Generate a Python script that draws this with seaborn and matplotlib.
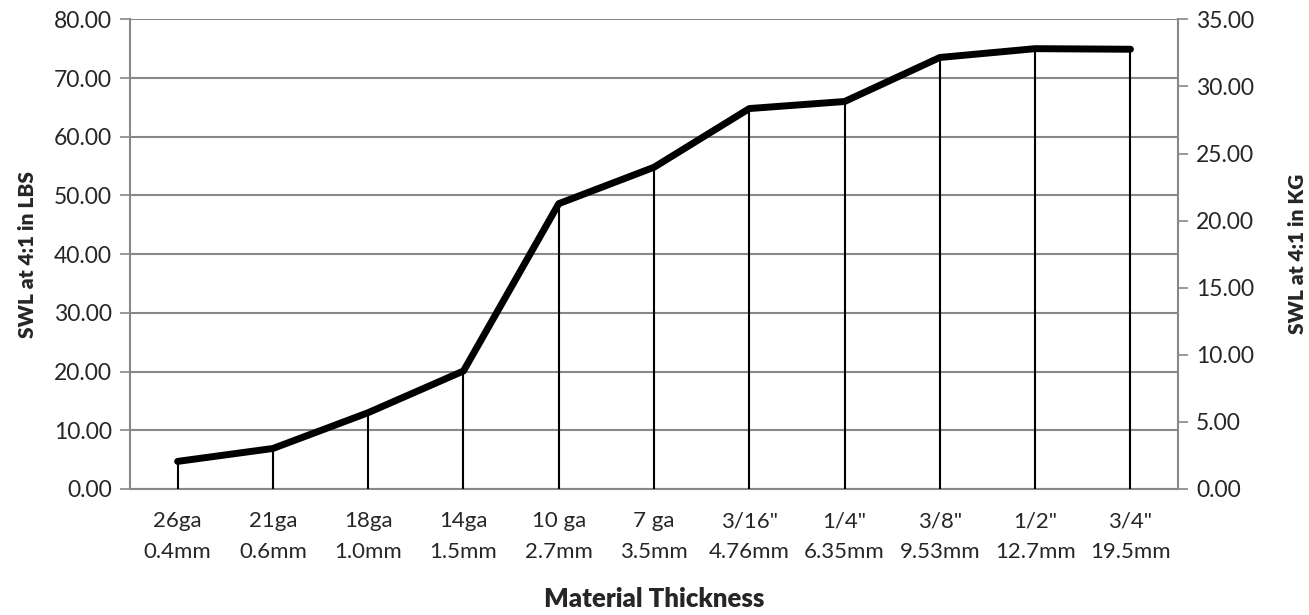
import numpy as np
import pandas as pd
import matplotlib
matplotlib.use("Agg")
import matplotlib.pyplot as plt
import seaborn as sns
from matplotlib.ticker import FormatStrFormatter, MultipleLocator, FixedLocator

# data
gauge = ["26ga", "21ga", "18ga", "14ga", "10 ga", "7 ga", '3/16"', '1/4"', '3/8"', '1/2"', '3/4"']
metric = ["0.4mm", "0.6mm", "1.0mm", "1.5mm", "2.7mm", "3.5mm", "4.76mm", "6.35mm", "9.53mm", "12.7mm", "19.5mm"]
swl_lbs = [4.7, 6.9, 13.0, 20.1, 48.6, 54.8, 64.8, 66.0, 73.5, 75.0, 74.9]

data = pd.DataFrame({"pos": np.arange(len(gauge)), "lbs": swl_lbs})
labels = [g + "\n" + m for g, m in zip(gauge, metric)]

sns.set_style("white")
plt.rcParams["font.family"] = ["Lato", "DejaVu Sans"]
grid_c = "#888888"

fig = plt.figure(figsize=(13.09, 6.15), dpi=100)
ax = fig.add_axes([0.0993, 0.2049, 0.8007, 0.7637])

#Main line
sns.lineplot(data=data, x="pos", y="lbs", ax=ax, color="black", linewidth=5, zorder=4)
#Drop lines down to axis
ax.vlines(data["pos"], 0, data["lbs"], color="black", linewidth=1.5, zorder=3)

ax.set_xlim(-0.5, len(gauge) - 0.5)
ax.set_ylim(0, 80)
ax.yaxis.set_major_locator(MultipleLocator(10))
ax.yaxis.set_major_formatter(FormatStrFormatter("%.2f"))
ax.grid(axis="y", color=grid_c, linewidth=1.5)
ax.set_axisbelow(True)

# category ticks between categories, labels centred
ax.xaxis.set_major_locator(FixedLocator(np.arange(-0.5, len(gauge), 1.0)))
ax.xaxis.set_major_formatter(plt.NullFormatter())
ax.xaxis.set_minor_locator(FixedLocator(data["pos"]))
ax.set_xticklabels(labels, minor=True, linespacing=1.65)
ax.tick_params(axis="x", which="minor", length=0, pad=16, labelsize=16)
ax.tick_params(axis="x", which="major", length=7, width=1.2, color=grid_c)
ax.tick_params(axis="y", length=7, width=1.2, color=grid_c, labelsize=16.5, pad=6)

for s in ["top", "right"]:
    ax.spines[s].set_visible(False)
for s in ["left", "bottom"]:
    ax.spines[s].set_color(grid_c)
    ax.spines[s].set_linewidth(1.5)

ax.set_xlabel("Material Thickness", fontsize=18.5, fontweight="heavy", labelpad=18)
ax.set_ylabel("SWL at 4:1 in LBS", fontsize=15, fontweight="heavy", labelpad=12)

#Secondary axis in KG
ax2 = ax.twinx()
ax2.set_ylim(0, 35)
ax2.yaxis.set_major_locator(MultipleLocator(5))
ax2.yaxis.set_major_formatter(FormatStrFormatter("%.2f"))
ax2.tick_params(axis="y", length=7, width=1.2, color=grid_c, labelsize=16.5, pad=6)
for s in ["top", "left", "bottom"]:
    ax2.spines[s].set_visible(False)
ax2.spines["right"].set_color(grid_c)
ax2.spines["right"].set_linewidth(1.5)
ax2.set_ylabel("SWL at 4:1 in KG", fontsize=15, fontweight="heavy", labelpad=24)

fig.savefig("out.png", dpi=100)
